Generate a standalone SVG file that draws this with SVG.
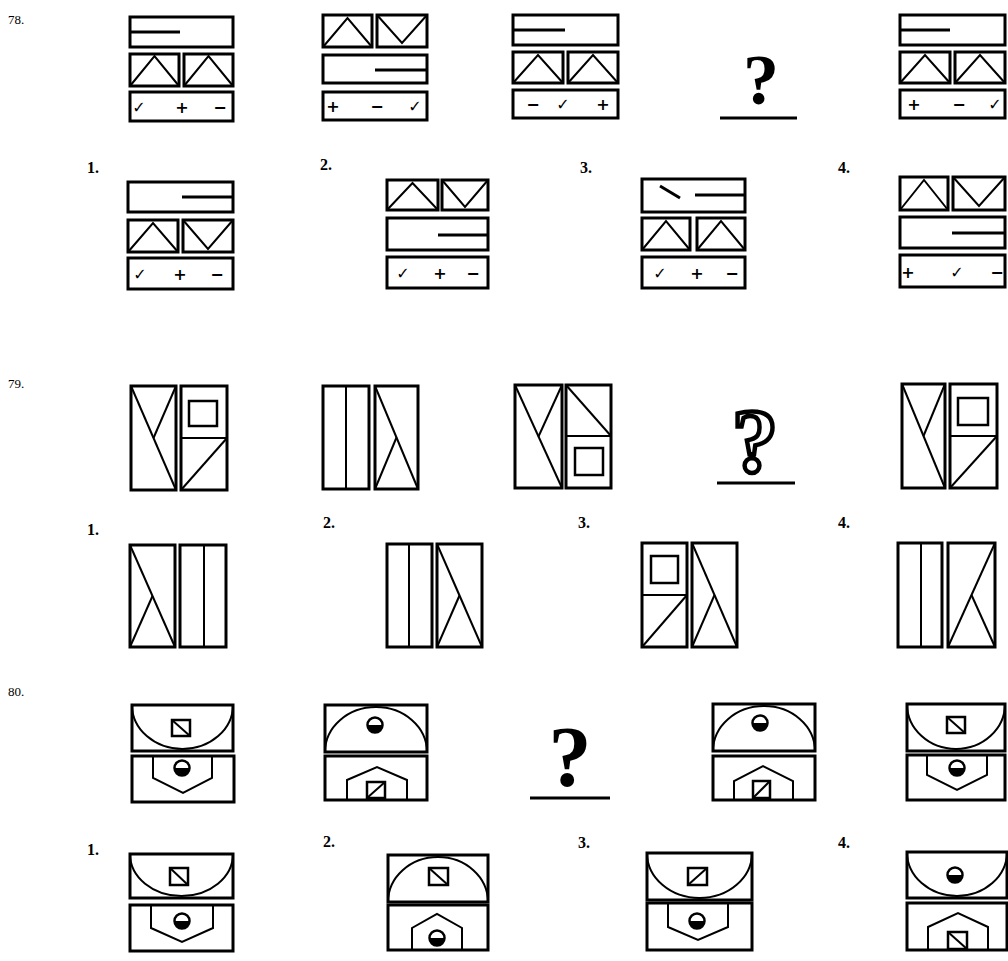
<svg xmlns="http://www.w3.org/2000/svg" width="1008" height="961" viewBox="0 0 1008 961">
<style>
.f{fill:none;stroke:#000;stroke-width:3}
.l{fill:none;stroke:#000;stroke-width:2}
.s{fill:none;stroke:#000;stroke-width:2.5}
.sym{font-family:"DejaVu Sans",sans-serif;font-size:16px;font-weight:bold;text-anchor:middle}
.num{font-family:"Liberation Serif",serif;font-size:13px}
.lab{font-family:"Liberation Serif",serif;font-size:16px;font-weight:bold}
.q{font-family:"Liberation Serif",serif;font-weight:bold;text-anchor:middle}
</style>
<rect width="1008" height="961" fill="#fff"/>

<text class="num" x="8" y="24">78.</text>
<text class="num" x="8" y="388">79.</text>
<text class="num" x="8" y="696">80.</text>

<g id="labels">
<text class="lab" x="87" y="173">1.</text>
<text class="lab" x="320" y="170">2.</text>
<text class="lab" x="580" y="173">3.</text>
<text class="lab" x="838" y="173">4.</text>
<text class="lab" x="87" y="535">1.</text>
<text class="lab" x="323" y="528">2.</text>
<text class="lab" x="578" y="528">3.</text>
<text class="lab" x="838" y="528">4.</text>
<text class="lab" x="87" y="855">1.</text>
<text class="lab" x="323" y="847">2.</text>
<text class="lab" x="578" y="848">3.</text>
<text class="lab" x="838" y="848">4.</text>
</g>

<!-- Problem 78 -->
<g id="p78-f1">
<rect class="f" x="130" y="17" width="103" height="30"/>
<line class="f" x1="131" y1="32" x2="180" y2="32"/>
<rect class="f" x="130" y="54" width="49" height="32"/>
<polyline class="l" points="130,86 154.5,56 179,86"/>
<rect class="f" x="184" y="54" width="49" height="32"/>
<polyline class="l" points="184,86 208.5,56 233,86"/>
<rect class="f" x="130" y="92" width="103" height="29"/>
<text class="sym" x="139" y="113">✓</text><text class="sym" x="182" y="113">+</text><text class="sym" x="220" y="113">−</text>
</g>
<g id="p78-f2">
<rect class="f" x="323" y="15" width="49" height="32"/>
<polyline class="l" points="323,47 347.5,18 372,47"/>
<rect class="f" x="377" y="15" width="50" height="32"/>
<polyline class="l" points="377,15 402,43 427,15"/>
<rect class="f" x="323" y="55" width="104" height="28"/>
<line class="f" x1="375" y1="70" x2="426" y2="70"/>
<rect class="f" x="323" y="92" width="104" height="28"/>
<text class="sym" x="333" y="112">+</text><text class="sym" x="377" y="112">−</text><text class="sym" x="415" y="112">✓</text>
</g>
<g id="p78-f3">
<rect class="f" x="513" y="15" width="105" height="30"/>
<line class="f" x1="514" y1="30" x2="565" y2="30"/>
<rect class="f" x="513" y="52" width="50" height="31"/>
<polyline class="l" points="513,83 538,55 563,83"/>
<rect class="f" x="568" y="52" width="50" height="31"/>
<polyline class="l" points="568,83 593,55 618,83"/>
<rect class="f" x="513" y="90" width="105" height="28"/>
<text class="sym" x="533" y="110">−</text><text class="sym" x="563" y="110">✓</text><text class="sym" x="603" y="110">+</text>
</g>
<g id="p78-q">
<text class="q" x="761" y="104" font-size="72">?</text>
<line class="f" x1="720" y1="118" x2="797" y2="118"/>
</g>
<g id="p78-f5">
<rect class="f" x="900" y="15" width="105" height="30"/>
<line class="f" x1="901" y1="30" x2="950" y2="30"/>
<rect class="f" x="900" y="52" width="50" height="31"/>
<polyline class="l" points="900,83 925,55 950,83"/>
<rect class="f" x="955" y="52" width="50" height="31"/>
<polyline class="l" points="955,83 980,55 1005,83"/>
<rect class="f" x="900" y="90" width="105" height="28"/>
<text class="sym" x="914" y="110">+</text><text class="sym" x="959" y="110">−</text><text class="sym" x="995" y="110">✓</text>
</g>
<g id="p78-o1">
<rect class="f" x="128" y="182" width="105" height="30"/>
<line class="f" x1="182" y1="197" x2="232" y2="197"/>
<rect class="f" x="128" y="220" width="50" height="32"/>
<polyline class="l" points="128,252 153,223 178,252"/>
<rect class="f" x="183" y="220" width="50" height="32"/>
<polyline class="l" points="183,220 208,249 233,220"/>
<rect class="f" x="128" y="258" width="105" height="31"/>
<text class="sym" x="140" y="280">✓</text><text class="sym" x="180" y="280">+</text><text class="sym" x="217" y="280">−</text>
</g>
<g id="p78-o2">
<rect class="f" x="387" y="180" width="51" height="30"/>
<polyline class="l" points="387,210 412.5,183 438,210"/>
<rect class="f" x="442" y="180" width="46" height="30"/>
<polyline class="l" points="442,180 465,207 488,180"/>
<rect class="f" x="387" y="218" width="101" height="32"/>
<line class="f" x1="438" y1="235" x2="487" y2="235"/>
<rect class="f" x="387" y="257" width="101" height="31"/>
<text class="sym" x="403" y="279">✓</text><text class="sym" x="440" y="279">+</text><text class="sym" x="473" y="279">−</text>
</g>
<g id="p78-o3">
<rect class="f" x="642" y="179" width="103" height="33"/>
<line class="f" x1="660" y1="186" x2="680" y2="198"/>
<line class="f" x1="695" y1="195" x2="744" y2="195"/>
<rect class="f" x="642" y="218" width="48" height="32"/>
<polyline class="l" points="642,250 666,221 690,250"/>
<rect class="f" x="697" y="218" width="48" height="32"/>
<polyline class="l" points="697,250 721,221 745,250"/>
<rect class="f" x="642" y="257" width="103" height="31"/>
<text class="sym" x="660" y="279">✓</text><text class="sym" x="697" y="279">+</text><text class="sym" x="732" y="279">−</text>
</g>
<g id="p78-o4">
<rect class="f" x="900" y="177" width="48" height="33"/>
<polyline class="l" points="900,210 924,180 948,210"/>
<rect class="f" x="953" y="177" width="52" height="33"/>
<polyline class="l" points="953,177 979,206 1005,177"/>
<rect class="f" x="900" y="217" width="105" height="31"/>
<line class="f" x1="952" y1="233" x2="1004" y2="233"/>
<rect class="f" x="900" y="255" width="105" height="32"/>
<text class="sym" x="908" y="278">+</text><text class="sym" x="957" y="278">✓</text><text class="sym" x="997" y="278">−</text>
</g>

<!-- Problem 79 -->
<g id="p79-f1">
<rect class="f" x="131" y="386" width="45" height="104"/>
<line class="l" x1="131" y1="386" x2="176" y2="490"/>
<line class="l" x1="176" y1="386" x2="153.5" y2="438"/>
<rect class="f" x="181" y="386" width="46" height="104"/>
<rect class="s" x="189" y="401" width="28" height="25"/>
<line class="l" x1="181" y1="438" x2="227" y2="438"/>
<line class="l" x1="181" y1="490" x2="227" y2="438"/>
</g>
<g id="p79-f2">
<rect class="f" x="323" y="386" width="46" height="103"/>
<line class="l" x1="346" y1="386" x2="346" y2="489"/>
<rect class="f" x="375" y="386" width="43" height="103"/>
<line class="l" x1="375" y1="386" x2="418" y2="489"/>
<line class="l" x1="375" y1="489" x2="396.5" y2="437.5"/>
</g>
<g id="p79-f3">
<rect class="f" x="515" y="385" width="47" height="103"/>
<line class="l" x1="515" y1="385" x2="562" y2="488"/>
<line class="l" x1="562" y1="385" x2="538.5" y2="436.5"/>
<rect class="f" x="566" y="385" width="45" height="103"/>
<line class="l" x1="566" y1="385" x2="611" y2="436"/>
<line class="l" x1="566" y1="436" x2="611" y2="436"/>
<rect class="s" x="575" y="448" width="28" height="27"/>
</g>
<g id="p79-q">
<text class="q" x="755" y="472" font-size="92" fill="#fff" stroke="#000" stroke-width="4.5">?</text>
<line class="f" x1="717" y1="483" x2="795" y2="483"/>
</g>
<g id="p79-f5">
<rect class="f" x="902" y="384" width="43" height="104"/>
<line class="l" x1="902" y1="384" x2="945" y2="488"/>
<line class="l" x1="945" y1="384" x2="923.5" y2="436"/>
<rect class="f" x="950" y="384" width="47" height="104"/>
<rect class="s" x="958" y="398" width="30" height="27"/>
<line class="l" x1="950" y1="436" x2="997" y2="436"/>
<line class="l" x1="950" y1="488" x2="997" y2="436"/>
</g>
<g id="p79-o1">
<rect class="f" x="130" y="545" width="45" height="102"/>
<line class="l" x1="130" y1="545" x2="175" y2="647"/>
<line class="l" x1="130" y1="647" x2="152.5" y2="596"/>
<rect class="f" x="180" y="545" width="46" height="102"/>
<line class="l" x1="204" y1="545" x2="204" y2="647"/>
</g>
<g id="p79-o2">
<rect class="f" x="387" y="544" width="45" height="103"/>
<line class="l" x1="409" y1="544" x2="409" y2="647"/>
<rect class="f" x="437" y="544" width="45" height="103"/>
<line class="l" x1="437" y1="544" x2="482" y2="647"/>
<line class="l" x1="437" y1="647" x2="459.5" y2="595.5"/>
</g>
<g id="p79-o3">
<rect class="f" x="642" y="543" width="45" height="104"/>
<rect class="s" x="651" y="556" width="27" height="27"/>
<line class="l" x1="642" y1="595" x2="687" y2="595"/>
<line class="l" x1="642" y1="647" x2="687" y2="595"/>
<rect class="f" x="692" y="543" width="45" height="104"/>
<line class="l" x1="692" y1="543" x2="737" y2="647"/>
<line class="l" x1="692" y1="647" x2="714.5" y2="595"/>
</g>
<g id="p79-o4">
<rect class="f" x="898" y="543" width="44" height="104"/>
<line class="l" x1="921" y1="543" x2="921" y2="647"/>
<rect class="f" x="948" y="543" width="47" height="104"/>
<line class="l" x1="948" y1="647" x2="995" y2="543"/>
<line class="l" x1="971.5" y1="595" x2="995" y2="647"/>
</g>

<!-- Problem 80 -->
<g id="p80-f1">
<rect class="f" x="132" y="705" width="101" height="46"/>
<path class="l" d="M132,705 A50.5,44 0 0 0 233,705"/>
<rect class="s" x="172" y="720" width="18" height="16"/>
<line class="l" x1="172" y1="720" x2="190" y2="736"/>
<rect class="f" x="132" y="756" width="102" height="46"/>
<polyline class="l" points="153,756 153,778 183,793 212,778 212,756"/>
<circle cx="182" cy="768" r="7.5" fill="#fff" stroke="#000" stroke-width="2.5"/>
<path d="M174.5,768 A7.5,7.5 0 0 0 189.5,768 Z"/>
</g>
<g id="p80-f2">
<rect class="f" x="325" y="705" width="102" height="47"/>
<path class="l" d="M325,752 A51,45 0 0 1 427,752"/>
<circle cx="375" cy="725" r="7.5" fill="#fff" stroke="#000" stroke-width="2.5"/>
<path d="M367.5,725 A7.5,7.5 0 0 0 382.5,725 Z"/>
<rect class="f" x="325" y="756" width="102" height="44"/>
<polyline class="l" points="347,800 347,780 377,767 407,780 407,800"/>
<rect class="s" x="367" y="782" width="18" height="16"/>
<line class="l" x1="367" y1="798" x2="385" y2="782"/>
</g>
<g id="p80-q">
<text class="q" x="570" y="786" font-size="86">?</text>
<line class="f" x1="530" y1="798" x2="610" y2="798"/>
</g>
<g id="p80-f4">
<rect class="f" x="713" y="704" width="102" height="47"/>
<path class="l" d="M713,751 A51,45 0 0 1 815,751"/>
<circle cx="760" cy="723" r="7.5" fill="#fff" stroke="#000" stroke-width="2.5"/>
<path d="M752.5,723 A7.5,7.5 0 0 0 767.5,723 Z"/>
<rect class="f" x="713" y="756" width="102" height="44"/>
<polyline class="l" points="734,800 734,781 763,766 793,781 793,800"/>
<rect class="s" x="753" y="781" width="17" height="17"/>
<line class="l" x1="753" y1="798" x2="770" y2="781"/>
</g>
<g id="p80-f5">
<rect class="f" x="907" y="704" width="98" height="47"/>
<path class="l" d="M907,704 A49,45 0 0 0 1005,704"/>
<rect class="s" x="947" y="717" width="18" height="16"/>
<line class="l" x1="947" y1="717" x2="965" y2="733"/>
<rect class="f" x="907" y="755" width="98" height="45"/>
<polyline class="l" points="927,755 927,775 957,790 987,775 987,755"/>
<circle cx="957" cy="768" r="7.5" fill="#fff" stroke="#000" stroke-width="2.5"/>
<path d="M949.5,768 A7.5,7.5 0 0 0 964.5,768 Z"/>
</g>
<g id="p80-o1">
<rect class="f" x="130" y="854" width="103" height="44"/>
<path class="l" d="M130,854 A51.5,42 0 0 0 233,854"/>
<rect class="s" x="170" y="868" width="18" height="17"/>
<line class="l" x1="170" y1="868" x2="188" y2="885"/>
<rect class="f" x="130" y="905" width="103" height="46"/>
<polyline class="l" points="151,905 151,928 182,942 213,928 213,905"/>
<circle cx="182" cy="921" r="7.5" fill="#fff" stroke="#000" stroke-width="2.5"/>
<path d="M174.5,921 A7.5,7.5 0 0 0 189.5,921 Z"/>
</g>
<g id="p80-o2">
<rect class="f" x="388" y="855" width="100" height="47"/>
<path class="l" d="M388,902 A50,45 0 0 1 488,902"/>
<rect class="s" x="429" y="868" width="19" height="17"/>
<line class="l" x1="429" y1="868" x2="448" y2="885"/>
<rect class="f" x="388" y="905" width="100" height="45"/>
<polyline class="l" points="412,950 412,928 437,914 462,928 462,950"/>
<circle cx="437" cy="938" r="7.5" fill="#fff" stroke="#000" stroke-width="2.5"/>
<path d="M429.5,938 A7.5,7.5 0 0 0 444.5,938 Z"/>
</g>
<g id="p80-o3">
<rect class="f" x="647" y="853" width="105" height="47"/>
<path class="l" d="M647,853 A52.5,45 0 0 0 752,853"/>
<rect class="s" x="688" y="868" width="19" height="17"/>
<line class="l" x1="688" y1="885" x2="707" y2="868"/>
<rect class="f" x="647" y="903" width="105" height="47"/>
<polyline class="l" points="668,903 668,927 698,940 728,927 728,903"/>
<circle cx="697" cy="921" r="7.5" fill="#fff" stroke="#000" stroke-width="2.5"/>
<path d="M689.5,921 A7.5,7.5 0 0 0 704.5,921 Z"/>
</g>
<g id="p80-o4">
<rect class="f" x="907" y="852" width="100" height="46"/>
<path class="l" d="M907,852 A50,44 0 0 0 1007,852"/>
<circle cx="955" cy="875" r="7.5" fill="#fff" stroke="#000" stroke-width="2.5"/>
<path d="M947.5,875 A7.5,7.5 0 0 0 962.5,875 Z"/>
<rect class="f" x="907" y="903" width="100" height="47"/>
<polyline class="l" points="928,950 928,927 958,913 988,927 988,950"/>
<rect class="s" x="948" y="932" width="19" height="17"/>
<line class="l" x1="948" y1="932" x2="967" y2="949"/>
</g>
</svg>
